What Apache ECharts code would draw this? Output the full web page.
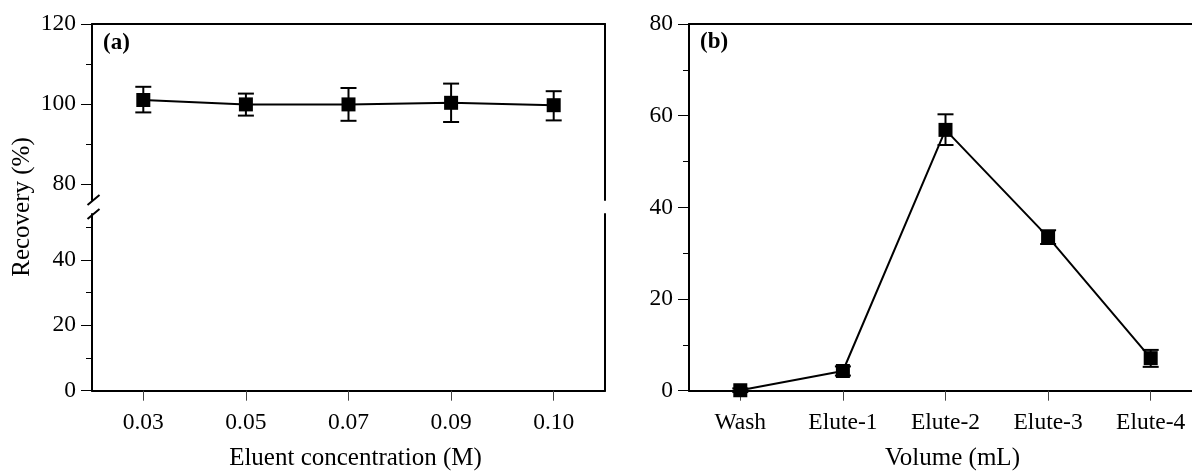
<!DOCTYPE html>
<html>
<head>
    <meta charset="utf-8">
    <title>Recovery</title>
    <script src="https://cdn.jsdelivr.net/npm/echarts@6/dist/echarts.min.js"></script>
</head>
<body style="margin:0;background:#fff;">
<div id="main" style="width:1192px;height:472px;"></div>
<script type="text/javascript">
    // (a) eluent concentration
    var concLabels = ['0.03', '0.05', '0.07', '0.09', '0.10'];
    var recoveryA = [101.0, 99.9, 99.9, 100.3, 99.7];
    var recoveryAHigh = [104.3, 102.6, 104.0, 105.1, 103.2];
    var recoveryALow = [97.9, 97.1, 95.8, 95.5, 95.9];

    // (b) elution volume
    var volumeLabels = ['Wash', 'Elute-1', 'Elute-2', 'Elute-3', 'Elute-4'];
    var recoveryB = [0.1, 4.3, 56.9, 33.5, 7.1];
    var recoveryBHigh = [0.5, 5.3, 60.3, 35.0, 8.9];
    var recoveryBLow = [-0.3, 3.3, 53.6, 32.0, 5.2];

    // tick labels
    var ticksATop = [80, 100, 120];
    var minorATop = [90, 110];
    var ticksABottom = [0, 20, 40];
    var minorABottom = [10, 30, 50];

    var FONT = 'Liberation Serif, Times New Roman, serif';
    var black = '#000';

    function errData(hi, lo) {
        var out = [];
        for (var i = 0; i < hi.length; i++) out.push([i, hi[i], lo[i]]);
        return out;
    }

    function errorBar(params, api) {
        var x = api.value(0);
        var top = api.coord([x, api.value(1)]);
        var bot = api.coord([x, api.value(2)]);
        var hw = 8;
        var st = {stroke: black, lineWidth: 2};
        return {
            type: 'group',
            children: [
                {type: 'line', shape: {x1: top[0], y1: top[1], x2: bot[0], y2: bot[1]}, style: st},
                {type: 'line', shape: {x1: top[0] - hw, y1: top[1], x2: top[0] + hw, y2: top[1]}, style: st},
                {type: 'line', shape: {x1: bot[0] - hw, y1: bot[1], x2: bot[0] + hw, y2: bot[1]}, style: st}
            ]
        };
    }

    var lineAx = {show: true, onZero: false, lineStyle: {color: black, width: 2}};
    var lbl = {color: black, fontFamily: FONT, fontSize: 23.5};
    var nameStyle = {color: black, fontFamily: FONT, fontSize: 25, padding: [0, 0, 0, 14]};

    function minorAxis(grid, min, max, vals) {
        return {
            type: 'value', gridIndex: grid, position: 'left', min: min, max: max,
            axisLine: {show: false}, splitLine: {show: false}, axisLabel: {show: false},
            axisTick: {show: true, length: 6, customValues: vals, lineStyle: {color: black, width: 1}}
        };
    }

    function borderAxis(grid, min, max) {
        return {
            type: 'value', gridIndex: grid, position: 'right', min: min, max: max,
            axisLine: lineAx, splitLine: {show: false}, axisLabel: {show: false}, axisTick: {show: false}
        };
    }

    var myChart = echarts.init(document.getElementById('main'));

    myChart.setOption({
        animation: false,
        backgroundColor: '#fff',
        grid: [
            {left: 92, top: 24, width: 513, height: 176, outerBoundsMode: 'none', containLabel: false},
            {left: 92, top: 214, width: 513, height: 176.7, outerBoundsMode: 'none', containLabel: false},
            {left: 689, top: 24, width: 513, height: 366.7, outerBoundsMode: 'none', containLabel: false}
        ],
        xAxis: [
            {type: 'category', gridIndex: 0, position: 'top', data: concLabels,
             axisLine: lineAx, axisTick: {show: false}, axisLabel: {show: false}},
            {type: 'category', gridIndex: 1, position: 'bottom', data: concLabels,
             axisLine: lineAx,
             axisTick: {show: true, alignWithLabel: true, length: 10, lineStyle: {color: '#444', width: 1}},
             axisLabel: Object.assign({margin: 20}, lbl),
             name: 'Eluent concentration (M)', nameLocation: 'middle', nameGap: 55,
             nameTextStyle: nameStyle},
            {type: 'category', gridIndex: 2, position: 'bottom', data: volumeLabels,
             axisLine: lineAx,
             axisTick: {show: true, alignWithLabel: true, length: 10, lineStyle: {color: '#444', width: 1}},
             axisLabel: Object.assign({margin: 20}, lbl),
             name: 'Volume (mL)', nameLocation: 'middle', nameGap: 55,
             nameTextStyle: nameStyle},
            {type: 'category', gridIndex: 2, position: 'top', data: volumeLabels,
             axisLine: lineAx, axisTick: {show: false}, axisLabel: {show: false}}
        ],
        yAxis: [
            {type: 'value', gridIndex: 0, position: 'left', min: 76, max: 120,
             axisLine: lineAx, splitLine: {show: false},
             axisTick: {show: true, length: 11, customValues: ticksATop, lineStyle: {color: black, width: 1}},
             axisLabel: Object.assign({margin: 16, customValues: ticksATop}, lbl)},
            minorAxis(0, 76, 120, minorATop),
            borderAxis(0, 76, 120),
            {type: 'value', gridIndex: 1, position: 'left', min: 0, max: 54,
             axisLine: lineAx, splitLine: {show: false},
             axisTick: {show: true, length: 11, customValues: ticksABottom, lineStyle: {color: black, width: 1}},
             axisLabel: Object.assign({margin: 16, customValues: ticksABottom}, lbl)},
            minorAxis(1, 0, 54, minorABottom),
            borderAxis(1, 0, 54),
            {type: 'value', gridIndex: 2, position: 'left', min: 0, max: 80, interval: 20,
             axisLine: lineAx, splitLine: {show: false},
             axisTick: {show: true, length: 11, lineStyle: {color: black, width: 1}},
             minorTick: {show: true, splitNumber: 2, length: 6, lineStyle: {color: black, width: 1}},
             axisLabel: Object.assign({margin: 16}, lbl)}
        ],
        graphic: [
            {type: 'text', x: 22, y: 207, rotation: Math.PI / 2,
             style: {text: 'Recovery (%)', font: '25px ' + FONT, fill: black, textAlign: 'center', textVerticalAlign: 'middle'}},
            {type: 'text', x: 103, y: 43,
             style: {text: '(a)', font: 'bold 23px ' + FONT, fill: black, textAlign: 'left', textVerticalAlign: 'middle'}},
            {type: 'text', x: 700, y: 42,
             style: {text: '(b)', font: 'bold 23px ' + FONT, fill: black, textAlign: 'left', textVerticalAlign: 'middle'}},
            // axis break marks
            {type: 'line', shape: {x1: 87.5, y1: 205, x2: 99.5, y2: 195}, style: {stroke: black, lineWidth: 2}},
            {type: 'line', shape: {x1: 87.5, y1: 219, x2: 99.5, y2: 209}, style: {stroke: black, lineWidth: 2}}
        ],
        series: [
            {type: 'custom', xAxisIndex: 0, yAxisIndex: 0, renderItem: errorBar,
             data: errData(recoveryAHigh, recoveryALow), encode: {x: 0, y: [1, 2]}, z: 2},
            {type: 'line', xAxisIndex: 0, yAxisIndex: 0, data: recoveryA, symbol: 'rect', symbolSize: 14,
             itemStyle: {color: black}, lineStyle: {color: black, width: 2}, clip: false, z: 3},
            {type: 'custom', xAxisIndex: 2, yAxisIndex: 6, renderItem: errorBar,
             data: errData(recoveryBHigh, recoveryBLow), encode: {x: 0, y: [1, 2]}, z: 2},
            {type: 'line', xAxisIndex: 2, yAxisIndex: 6, data: recoveryB, symbol: 'rect', symbolSize: 14,
             itemStyle: {color: black}, lineStyle: {color: black, width: 2}, clip: false, z: 3}
        ]
    });
</script>
</body>
</html>
